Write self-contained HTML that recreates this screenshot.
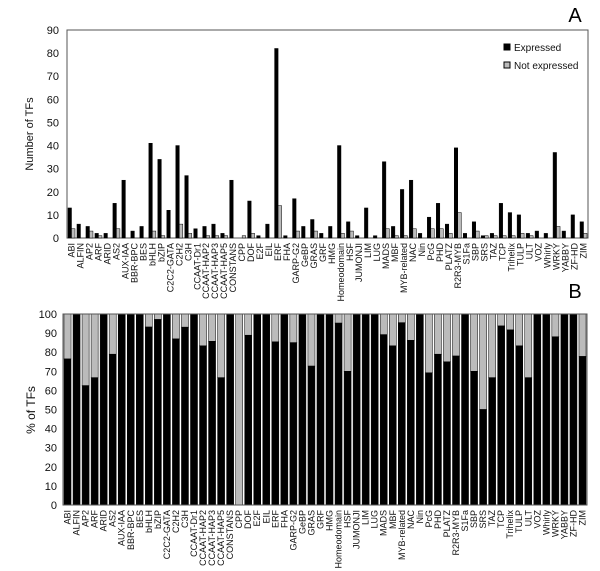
<!DOCTYPE html>
<html><head><meta charset="utf-8"><style>
body{margin:0;background:#fff;}
svg{display:block;font-family:"Liberation Sans",Arial,sans-serif;}
</style></head><body>
<svg id="chart" width="600" height="571" viewBox="0 0 600 571" xmlns="http://www.w3.org/2000/svg"></svg>
<script>
const categories=["ABI","ALFIN","AP2","ARF","ARID","AS2","AUX-IAA","BBR-BPC","BES","bHLH","bZIP","C2C2-GATA","C2H2","C3H","CCAAT-Dr1","CCAAT-HAP2","CCAAT-HAP3","CCAAT-HAP5","CONSTANS","CPP","DOF","E2F","EIL","ERF","FHA","GARP-G2","GeBP","GRAS","GRF","HMG","Homeodomain","HSF","JUMONJI","LIM","LUG","MADS","MBF","MYB-related","NAC","Nin","PcG","PHD","PLATZ","R2R3-MYB","S1Fa","SBP","SRS","TAZ","TCP","Trihelix","TULP","ULT","VOZ","Whirly","WRKY","YABBY","ZF-HD","ZIM"];
const expressed=[13,6,5,2,2,15,25,3,5,41,34,12,40,27,4,5,6,2,25,0,16,1,6,82,1,17,5,8,2,5,40,7,1,13,1,33,5,21,25,2,9,15,6,39,2,7,1,2,15,11,10,2,3,2,37,3,10,7];
const notExpressed=[4,0,3,1,0,4,0,0,0,3,1,0,6,2,0,1,1,1,0,1,2,0,0,14,0,3,0,3,0,0,2,3,0,0,0,4,1,1,4,0,4,4,2,11,0,3,1,1,1,1,2,1,0,0,5,0,0,2];
const ticksA=[0,10,20,30,40,50,60,70,80,90];
const ticksB=[0,10,20,30,40,50,60,70,80,90,100];

const NS="http://www.w3.org/2000/svg";
const svg=document.getElementById('chart');
function mk(tag,attrs,parent,text){const e=document.createElementNS(NS,tag);for(const k in attrs)e.setAttribute(k,attrs[k]);if(text!==undefined)e.textContent=text;(parent||svg).appendChild(e);return e;}

const A={x0:67,x1:588,y0:30,y1:238,max:90};
const B={x0:63,x1:587,y0:314,y1:505,max:100};
const n=categories.length;
function xA(i){return A.x0+(A.x1-A.x0)*i/n;}
function yA(v){return A.y1-(A.y1-A.y0)*v/A.max;}
function xB(i){return B.x0+(B.x1-B.x0)*i/n;}
function yB(v){return B.y1-(B.y1-B.y0)*v/B.max;}
const bwA=(A.x1-A.x0)/n, bwB=(B.x1-B.x0)/n;

// Panel A
const gA=mk('g',{},svg);


const fa=mk('rect',{x:A.x0,y:A.y0,width:A.x1-A.x0,height:A.y1-A.y0,fill:'none',stroke:'#555','stroke-width':1},gA);


ticksA.forEach(t=>{
  const tx=mk('text',{x:A.x0-8,y:yA(t)+4,'font-size':11,'text-anchor':'end',fill:'#111'},gA,String(t));
  
  
});
const ta=mk('text',{transform:'translate(33,134) rotate(-90)','font-size':11,'text-anchor':'middle',fill:'#111'},gA,'Number of TFs');


const la=mk('text',{x:575,y:22,'font-size':20,'text-anchor':'middle',fill:'#000'},gA,'A');


categories.forEach((c,i)=>{
  const x=xA(i)+1;const w=(bwA-2)/2;
  const b1=mk('rect',{x:x,y:yA(expressed[i]),width:w,height:yA(0)-yA(expressed[i]),fill:'#000',stroke:'#000','stroke-width':0.5},gA);
  
  
  const b2=mk('rect',{x:x+w,y:yA(notExpressed[i]),width:w,height:yA(0)-yA(notExpressed[i]),fill:'#bbb',stroke:'#000','stroke-width':0.5},gA);
  
  
  const cx=xA(i)+bwA/2+3;
  const t=mk('text',{transform:`translate(${cx},${A.y1+5}) rotate(-90)`,'font-size':9,'text-anchor':'end',fill:'#111'},gA,c);
  
  
});
// legend
const lg=mk('g',{},gA);


const l1=mk('rect',{x:504,y:44,width:6,height:6,fill:'#000',stroke:'#000'},lg);


const l1t=mk('text',{x:514,y:51,'font-size':10,fill:'#111'},lg,'Expressed');


const l2=mk('rect',{x:504,y:62,width:6,height:6,fill:'#bbb',stroke:'#000'},lg);


const l2t=mk('text',{x:514,y:69,'font-size':10,fill:'#111'},lg,'Not expressed');



// Panel B
const gB=mk('g',{},svg);


ticksB.forEach(t=>{
  const tx=mk('text',{x:B.x0-6,y:yB(t)+4,'font-size':11,'text-anchor':'end',fill:'#111'},gB,String(t));
  
  
});
const tb=mk('text',{transform:'translate(35,410) rotate(-90)','font-size':12,'text-anchor':'middle',fill:'#111'},gB,'% of TFs');


const lb=mk('text',{x:575,y:298,'font-size':20,'text-anchor':'middle',fill:'#000'},gB,'B');


categories.forEach((c,i)=>{
  const tot=expressed[i]+notExpressed[i];
  const p=tot?expressed[i]/tot*100:0;
  const x=xB(i)+1;const w=bwB-2;
  const g=mk('rect',{x:x,y:yB(100),width:w,height:yB(p)-yB(100),fill:'#bbb',stroke:'#000','stroke-width':0.5},gB);
  
  
  const b=mk('rect',{x:x,y:yB(p),width:w,height:yB(0)-yB(p),fill:'#000',stroke:'#000','stroke-width':0.5},gB);
  
  
  const cx=xB(i)+bwB/2+3;
  const t=mk('text',{transform:`translate(${cx},${B.y1+5}) rotate(-90)`,'font-size':9,'text-anchor':'end',fill:'#111'},gB,c);
  
  
});
const fb=mk('rect',{x:B.x0,y:B.y0,width:B.x1-B.x0,height:B.y1-B.y0,fill:'none',stroke:'#555','stroke-width':1},gB);


</script>
</body></html>
